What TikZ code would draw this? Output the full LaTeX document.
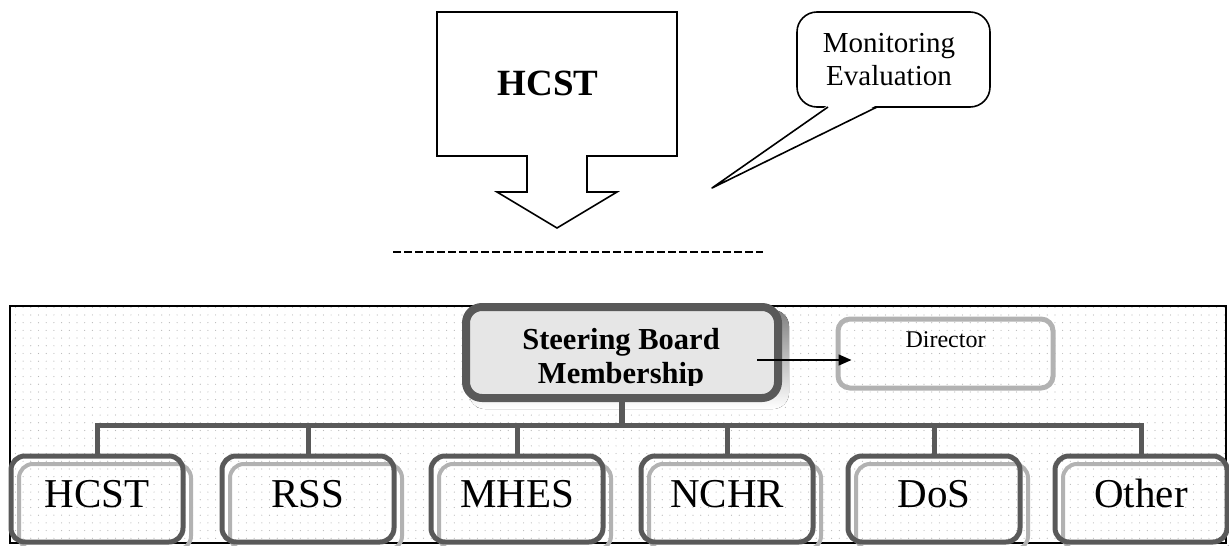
\documentclass[tikz,border=0pt]{standalone}
\usepackage{fontspec}
\setmainfont{Liberation Serif}
\usetikzlibrary{backgrounds,patterns.meta,arrows.meta}

\definecolor{boxline}{HTML}{595959}
\definecolor{boardfill}{HTML}{E6E6E6}
\definecolor{shade}{HTML}{B2B2B2}
\definecolor{dotgray}{HTML}{B8B8B8}

\tikzset{
  outline/.style={draw=black, line width=1.6pt, line join=miter},
  member/.style={draw=boxline, line width=5pt, rounded corners=14pt,
    minimum width=172pt, minimum height=86pt, inner sep=0pt, outer sep=0pt,
    text height=30pt, text depth=14pt, font=\fontsize{41}{41}\selectfont},
  board/.style={draw=boxline, line width=8pt, fill=boardfill, rounded corners=16pt,
    minimum width=312pt, minimum height=91pt, inner sep=0pt},
  dirbox/.style={draw=shade, line width=5pt, rounded corners=12pt,
    minimum width=215pt, minimum height=69pt, inner sep=0pt,
    text height=18pt, text depth=31pt, font=\fontsize{24}{24}\selectfont},
  tree/.style={draw=boxline, line width=5pt},
  stem/.style={draw=boxline, line width=6pt},
  link/.style={draw=black, line width=1.5pt, -{Triangle[length=13pt,width=11pt]}},
  memshadow/.style={draw=shade, line width=4pt, rounded corners=14pt},
  bubble/.style={draw=black, line width=1.6pt, rounded corners=20pt,
    minimum width=193pt, minimum height=95pt, inner sep=0pt, align=center,
    font=\fontsize{29}{33}\selectfont},
}

\begin{document}
\begin{tikzpicture}[x=1pt, y=-1pt]
\useasboundingbox (0,0) rectangle (1229,546);

% top block arrow with its label
\draw[outline] (437,12) -- (677,12) -- (677,156) -- (587,156) -- (587,192)
  -- (617,192) -- (557,228) -- (497,192) -- (527,192) -- (527,156)
  -- (437,156) -- cycle;
\node[anchor=base, font=\fontsize{37}{37}\selectfont\bfseries] (hcsttop) at (548,95) {HCST};

% speech bubble: rounded box, then the pointer cut into its lower edge
\node[bubble] (mon) at (893.5,59.5) {};
\node[align=center, font=\fontsize{29}{33}\selectfont] (montext) at (889,59.5)
  {Monitoring\\Evaluation};
\coordinate (tip) at (712,188);
\coordinate (pl) at (828,107);
\coordinate (pr) at (877,107);
\fill[white] ([shift={(0,-2)}]pl) -- (tip) -- ([shift={(0,-2)}]pr) -- cycle;
\draw[outline, line join=round] (pl) -- (tip) -- (pr);

% separator
\draw[black, line width=2.6pt, dash pattern=on 8pt off 3pt] (393,252) -- (763,252);

% steering board and director
\node[board] (sb) at (622,352.5) {};
\begin{scope}
  \clip (440,300) rectangle (800,385.5);
  \node[align=center, font=\fontsize{30.5}{34}\selectfont\bfseries] (sbtext) at (621,359)
    {Steering Board\\Membership};
\end{scope}
\node[dirbox] (director) at (945.5,353.5) {Director\hspace{15pt}};

\coordinate (sbout) at (757,360);
\coordinate (dirin) at ([xshift=16pt]director.west);
\draw[link] (sbout) -- (sbout -| dirin);

% member organisations
\node[member] (m1) at (97,499)   {HCST};
\node[member] (m2) at (308,499)  {RSS};
\node[member] (m3) at (517,499)  {MHES};
\node[member] (m4) at (727,499)  {NCHR};
\node[member] (m5) at (934,499)  {DoS};
\node[member] (m6) at (1141,499) {Other};

% organisation tree
\coordinate (bus) at (622,425);
\draw[stem] (sb.south) -- (bus);
\draw[tree] (m1.north) |- (bus) -| (m6.north);
\foreach \m in {m2,m3,m4,m5}
  \draw[tree] (\m.north) -- (\m.north |- bus);

% dotted panel and shadows underneath
\begin{scope}[on background layer]
  \draw[black, line width=2pt, pattern={Dots[distance=7.7pt, radius=0.6pt]},
    pattern color=dotgray] (10,306) rectangle (1226,543);
  \fill[shade, rounded corners=16pt]
    ([shift={(7,7)}]sb.north west) rectangle ([shift={(7,7)}]sb.south east);
  \foreach \m in {m1,m2,m3,m4,m5,m6}
    \draw[memshadow] ([shift={(8,8)}]\m.north west) rectangle ([shift={(8,8)}]\m.south east);
\end{scope}
\end{tikzpicture}
\end{document}
